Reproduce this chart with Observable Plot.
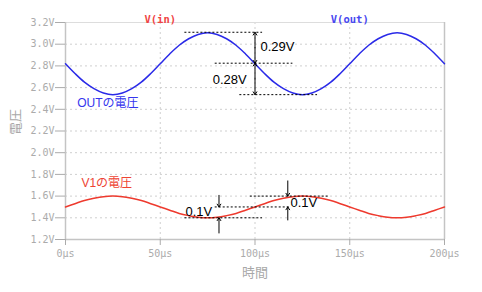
<!DOCTYPE html>
<html><head><meta charset="utf-8">
<script src="https://cdn.jsdelivr.net/npm/d3@7"></script>
<script src="https://cdn.jsdelivr.net/npm/@observablehq/plot@0.6"></script>
<style>body{margin:0;background:#fff}</style>
</head><body><div id="chart"></div>
<script>
const timeUs = [0,5,10,15,20,25,30,35,40,45,50,55,60,65,70,75,80,85,90,95,100,105,110,115,120,125,130,135,140,145,150,155,160,165,170,175,180,185,190,195,200];
const vOut = [2.82,2.73,2.65,2.59,2.55,2.535,2.55,2.59,2.65,2.73,2.82,2.91,2.99,3.05,3.09,3.105,3.09,3.05,2.99,2.91,
              2.82,2.73,2.65,2.59,2.55,2.535,2.55,2.59,2.65,2.73,2.82,2.91,2.99,3.05,3.09,3.105,3.09,3.05,2.99,2.91,2.82];
const vIn = [1.50,1.53,1.56,1.58,1.595,1.60,1.595,1.58,1.56,1.53,1.50,1.47,1.44,1.42,1.405,1.40,1.405,1.42,1.44,1.47,
             1.50,1.53,1.56,1.58,1.595,1.60,1.595,1.58,1.56,1.53,1.50,1.47,1.44,1.42,1.405,1.40,1.405,1.42,1.44,1.47,1.50];
const yTicks = [1.2,1.4,1.6,1.8,2.0,2.2,2.4,2.6,2.8,3.0,3.2];
const xTicks = [0,50,100,150,200];
const titleText = ["V(in)","V(out)"];
const titleAt = [50,150];
const seriesLabel = ["OUTの電圧","V1の電圧"];
const seriesLabelT = [6.2, 8.4];
const seriesLabelV = [2.453, 1.716];
const xLabel = "時間";
const yLabel = "電圧";
// measurement guides
const guideY  = [3.11, 2.825, 2.535, 1.6, 1.5, 1.4];
const guideT1 = [63, 79, 92, 97.5, 79, 63];
const guideT2 = [104, 120, 133, 139, 118.5, 104];
const dblT  = [100, 100];
const dblV1 = [3.11, 2.825];
const dblV2 = [2.825, 2.535];
const sglT  = [81, 81, 117.3, 117.3];
const sglV1 = [1.607, 1.26, 1.74, 1.38];
const sglV2 = [1.5, 1.4, 1.6, 1.5];
const noteText = ["0.29V","0.28V","0.1V","0.1V"];
const noteT = [102.9, 77.7, 63.3, 118.7];
const noteV = [2.972, 2.672, 1.454, 1.535];

const blue = "#2a2ae8", red = "#ee3a2e";
const seriesColor = [ "#3636ee", "#ee4433"];
const titleColor = ["#f04444", "#4848f0"];

const outData = timeUs.map((t,i)=>({t, v:vOut[i]}));
const inData = timeUs.map((t,i)=>({t, v:vIn[i]}));
const guides = guideY.map((y,i)=>({y, x1:guideT1[i], x2:guideT2[i]}));
const dbl = [];
dblT.forEach((t,i)=>{
  const m = (dblV1[i]+dblV2[i])/2;
  dbl.push({t, y1:m, y2:dblV1[i]}, {t, y1:m, y2:dblV2[i]});
});
const sgl = sglT.map((t,i)=>({t, y1:sglV1[i], y2:sglV2[i]}));
const notes = noteText.map((s,i)=>({s, t:noteT[i], v:noteV[i]}));
const titles = titleText.map((s,i)=>({s, t:titleAt[i], c:titleColor[i]}));
const slabels = seriesLabel.map((s,i)=>({s, t:seriesLabelT[i], v:seriesLabelV[i], c:seriesColor[i]}));

const mono = "'DejaVu Sans Mono', monospace";
const sans = "'Liberation Sans', Arial, sans-serif";
const cjk = "'Liberation Sans', 'Noto Sans CJK JP', sans-serif";

const chart = Plot.plot({
  width:482, height:292, marginLeft:65, marginRight:38, marginTop:22, marginBottom:53,
  style:{background:"#fff", overflow:"visible"},
  x:{domain:[0,200]},
  y:{domain:[1.2,3.2]},
  marks:[
    Plot.gridX(xTicks, {stroke:"#cfcfcf", strokeOpacity:1, strokeDasharray:"2,3"}),
    Plot.gridY(yTicks, {stroke:"#cfcfcf", strokeOpacity:1, strokeDasharray:"2,3"}),
    Plot.frame({stroke:"#dddddd"}),
    Plot.ruleX([0, 200], {stroke:"#c4c4c4", strokeWidth:1.5}),
    Plot.ruleY([1.2], {stroke:"#c4c4c4", strokeWidth:1.5}),
    Plot.axisX(xTicks, {tickSize:6, tickPadding:4, tickFormat:d=>d+"µs", fontFamily:mono, fontSize:10, color:"#ababab", label:null}),
    Plot.axisY(yTicks, {tickSize:10, tickPadding:1, tickFormat:d=>d.toFixed(1)+"V", fontFamily:mono, fontSize:10, color:"#ababab", label:null}),
    Plot.text([xLabel], {frameAnchor:"bottom", dy:37, fontFamily:cjk, fontSize:13, fill:"#a8a8a8"}),
    Plot.text([yLabel], {frameAnchor:"left", dx:-50, dy:4, rotate:-90, fontFamily:cjk, fontSize:13, fill:"#a8a8a8"}),
    Plot.text(titles, {x:"t", frameAnchor:"top", dy:-7, text:"s", fill:"c", fontFamily:mono, fontWeight:"bold", fontSize:10.5}),
    Plot.line(outData, {x:"t", y:"v", stroke:blue, strokeWidth:1.5, curve:"catmull-rom"}),
    Plot.line(inData, {x:"t", y:"v", stroke:red, strokeWidth:1.5, curve:"catmull-rom"}),
    Plot.text(slabels, {x:"t", y:"v", text:"s", fill:"c", textAnchor:"start", fontFamily:cjk, fontSize:12}),
    Plot.ruleY(guides, {y:"y", x1:"x1", x2:"x2", stroke:"black", strokeDasharray:"2,2", strokeWidth:1}),
    Plot.arrow(dbl, {x1:"t", x2:"t", y1:"y1", y2:"y2", stroke:"black", strokeWidth:1, headLength:5, headAngle:66}),
    Plot.arrow(sgl, {x1:"t", x2:"t", y1:"y1", y2:"y2", stroke:"black", strokeWidth:1, headLength:5, headAngle:66}),
    Plot.text(notes, {x:"t", y:"v", text:"s", textAnchor:"start", fontFamily:sans, fontSize:13, fill:"black"})
  ]
});
document.getElementById("chart").appendChild(chart);
</script>
</body></html>
